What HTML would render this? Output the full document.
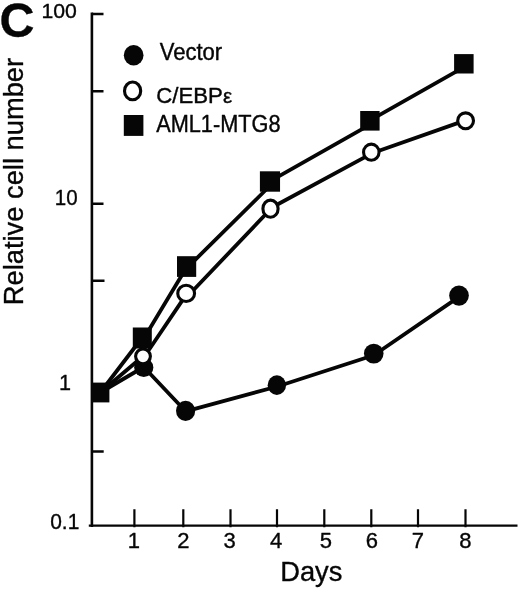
<!DOCTYPE html>
<html lang="en">
<head>
<meta charset="utf-8">
<title>Figure C</title>
<style>
html,body{margin:0;padding:0;background:#fff;}
body{width:520px;height:589px;overflow:hidden;}
svg{display:block;}
text{font-family:"Liberation Sans",sans-serif;fill:#060606;stroke:#060606;stroke-width:0.35px;stroke-linejoin:round;}
.leg text{stroke-width:0.4px;}
.tick{font-size:21.6px;}
.leg{font-size:21.7px;}
.ttl{font-size:27.3px;}
</style>
</head>
<body>
<svg width="520" height="589" viewBox="0 0 520 589">
<rect width="520" height="589" fill="#fff"/>
<!-- axes -->
<g stroke="#060606" fill="none" stroke-linecap="butt">
<path stroke-width="2.6" d="M91.9 12.6V527"/>
<path stroke-width="2.4" d="M88.8 525.6H517.5"/>
<path stroke-width="2.5" d="M92 13.9H103.5M92 91.3H103.5M92 203.8H103.5M92 280.8H104.5M92 451.5H103.7"/>
<path stroke-width="2.2" d="M134.4 509.2V527.2M183.3 509.2V527.2M230.5 509.2V527.2M277 509.2V527.2M324.3 509.2V527.2M371.3 509.2V527.2M418 509.2V527.2M465.5 509.2V527.2"/>
</g>
<!-- series lines -->
<g stroke="#060606" stroke-width="3.8" fill="none" stroke-linejoin="round" stroke-linecap="round">
<path d="M100.3 392.5L143.75 367L185.6 411.3L277.25 386.5L373.75 355.3L459 296.9"/>
<path d="M100.3 392.5L143 356.3M144.6 356.3L187.1 293.4M186.15 297.8L270.5 209.2M270.9 208L371.9 153.3L465.4 120.4"/>
<path d="M100.3 392.5L142.3 337.5M144.4 337.5L186.8 267M186.6 268.3L270.25 185.5M270.25 181.2L370 124.6M370 120.3L464 67.2"/>
</g>
<!-- filled circles -->
<g fill="#060606">
<circle cx="143.75" cy="367.5" r="9.6"/>
<ellipse cx="185.6" cy="410.8" rx="9.6" ry="10.1"/>
<ellipse cx="276.85" cy="385.15" rx="9.2" ry="9.85"/>
<ellipse cx="373.75" cy="353.6" rx="9.8" ry="9.95"/>
<ellipse cx="459" cy="295.6" rx="9.85" ry="10.2"/>
<ellipse cx="133.65" cy="55.3" rx="9.85" ry="10.2"/>
</g>
<!-- open circles -->
<g fill="#fff" stroke="#060606" stroke-width="3.1">
<circle cx="143" cy="356.3" r="7.4"/>
<ellipse cx="186.15" cy="293.4" rx="8.4" ry="8.1"/>
<ellipse cx="270.5" cy="208.7" rx="7.6" ry="8.6"/>
<ellipse cx="371.3" cy="152.2" rx="7.75" ry="8.05"/>
<circle cx="465.6" cy="120.8" r="7.9"/>
<ellipse cx="132.6" cy="90.9" rx="8.1" ry="8.9"/>
</g>
<!-- squares -->
<g fill="#060606">
<rect x="91.2" y="382.6" width="18.2" height="19.8"/>
<rect x="132.8" y="327.5" width="19" height="21"/>
<rect x="177" y="256.2" width="19.2" height="20.7"/>
<rect x="259.9" y="171.3" width="20.15" height="20.4"/>
<rect x="360.2" y="111" width="19.4" height="19.6"/>
<rect x="454.1" y="54.1" width="19.5" height="19.4"/>
<rect x="123.8" y="115" width="19.6" height="20.9"/>
</g>
<!-- labels -->
<text x="-0.6" y="37.3" style="font-size:48.4px;font-weight:bold">C</text>
<g class="tick" text-anchor="end">
<text transform="translate(76.8,17.8) scale(1.025,1)" style="font-size:20.7px">100</text>
<text transform="translate(77.6,205.4) scale(0.91,1)" style="font-size:22.6px">10</text>
<text transform="translate(71,389.6) scale(1,1)">1</text>
<text transform="translate(79.3,528.9) scale(0.97,1)">0.1</text>
</g>
<g class="tick" text-anchor="middle">
<text transform="translate(133.8,548.3) scale(1.02,1)">1</text>
<text transform="translate(183.4,548.3) scale(1.02,1)">2</text>
<text transform="translate(229.5,548.3) scale(1.02,1)">3</text>
<text transform="translate(276.2,548.3) scale(1.02,1)">4</text>
<text transform="translate(325.8,548.3) scale(1.02,1)">5</text>
<text transform="translate(371.9,548.3) scale(1.02,1)">6</text>
<text transform="translate(417.9,548.3) scale(1.02,1)">7</text>
<text transform="translate(465.4,548.3) scale(1.02,1)">8</text>
</g>
<g class="leg">
<text transform="translate(159.7,60.4) scale(0.955,1)" style="font-size:23.1px">Vector</text>
<text x="156.3" y="102.8" style="font-size:22.2px">C/EBP<tspan style="font-size:20.6px">ε</tspan></text>
<text transform="translate(156.2,131.9) scale(0.933,1)" style="font-size:23.3px">AML1-MTG8</text>
</g>
<text class="ttl" x="280.2" y="580.5">Days</text>
<text class="ttl" transform="translate(23.2,305.2) rotate(-90)">Relative cell number</text>
</svg>
</body>
</html>
